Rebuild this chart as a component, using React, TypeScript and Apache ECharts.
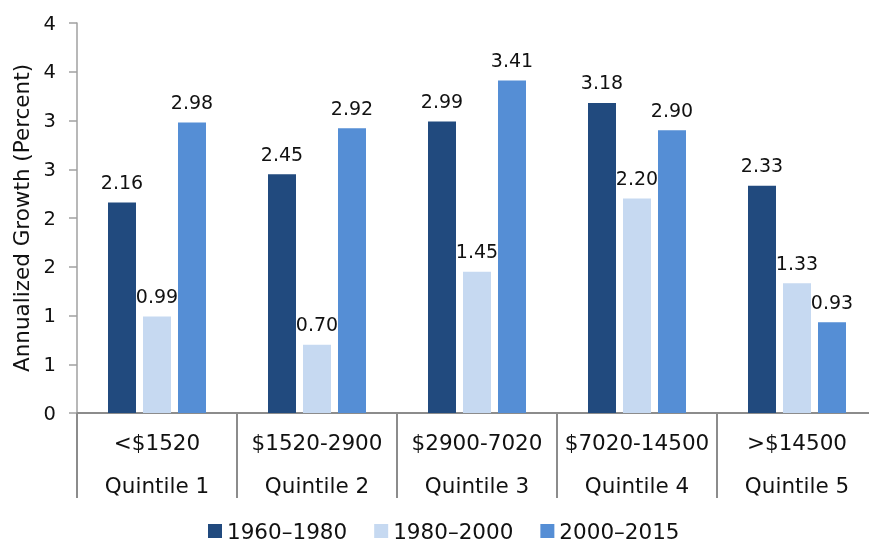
import React, { useEffect, useRef } from "react";
import * as echarts from "echarts";

const incomeRanges = ["<$1520", "$1520-2900", "$2900-7020", "$7020-14500", ">$14500"];
const quintiles = ["Quintile 1", "Quintile 2", "Quintile 3", "Quintile 4", "Quintile 5"];
const seriesNames = ["1960–1980", "1980–2000", "2000–2015"];
const values1960 = [2.16, 2.45, 2.99, 3.18, 2.33];
const values1980 = [0.99, 0.7, 1.45, 2.2, 1.33];
const values2000 = [2.98, 2.92, 3.41, 2.9, 0.93];
const colors = ["#214A7E", "#C6D9F1", "#558ED5"];

const FONT = "'DejaVu Sans', Verdana, sans-serif";

export default function App() {
  const ref = useRef<HTMLDivElement>(null);
  useEffect(() => {
    if (!ref.current) return;
    const chart = echarts.init(ref.current, undefined, { renderer: "svg" });
    const categories = incomeRanges.map((r, i) => r + "\n" + quintiles[i]);
    const allValues = [values1960, values1980, values2000];
    chart.setOption({
      animation: false,
      textStyle: { fontFamily: FONT },
      grid: { left: 77, right: 0, top: 23, bottom: 129, containLabel: false },
      legend: {
        left: 203,
        top: 515,
        itemWidth: 14,
        itemHeight: 14,
        itemGap: 27,
        icon: "rect",
        textStyle: { fontFamily: FONT, fontSize: 21.5, color: "#111" },
        data: seriesNames,
      },
      xAxis: {
        type: "category",
        data: categories,
        boundaryGap: true,
        axisLine: { show: true, lineStyle: { color: "#8C8C8C", width: 2 } },
        axisTick: {
          show: true,
          interval: 0,
          length: 85,
          lineStyle: { color: "#8C8C8C", width: 2 },
        },
        axisLabel: {
          interval: 0,
          margin: 8,
          lineHeight: 43,
          fontSize: 21.5,
          fontFamily: FONT,
          color: "#111",
        },
      },
      yAxis: {
        type: "value",
        min: 0,
        max: 4,
        interval: 0.5,
        name: "Annualized Growth (Percent)",
        nameLocation: "middle",
        nameRotate: 90,
        nameGap: 44,
        nameTextStyle: { fontFamily: FONT, fontSize: 21.5, color: "#111" },
        axisLine: { show: true, lineStyle: { color: "#A0A0A0", width: 1.5 } },
        axisTick: { show: true, length: 8, lineStyle: { color: "#A0A0A0", width: 1.5 } },
        splitLine: { show: false },
        axisLabel: {
          margin: 21,
          fontSize: 19.5,
          fontFamily: FONT,
          color: "#111",
          formatter: (v: number) => String(Math.round(v)),
        },
      },
      series: seriesNames.map((name, i) => ({
        name,
        type: "bar",
        data: allValues[i],
        barWidth: 28,
        barGap: "25%",
        itemStyle: { color: colors[i] },
        label: {
          show: true,
          position: "top",
          distance: 11,
          fontSize: 19,
          fontFamily: FONT,
          color: "#111",
          formatter: (p: any) => Number(p.value).toFixed(2),
        },
      })),
    });
    return () => chart.dispose();
  }, []);
  return (
    <div
      ref={ref}
      style={{ position: "fixed", left: 0, top: 0, width: 877, height: 542 }}
    />
  );
}
